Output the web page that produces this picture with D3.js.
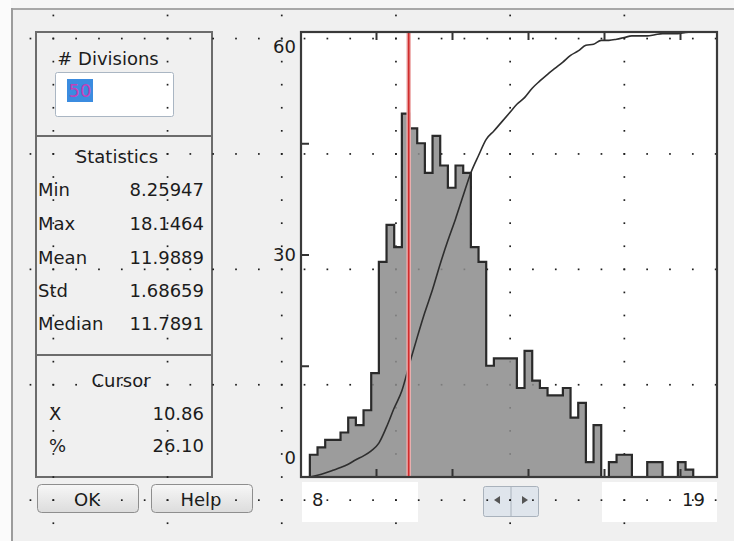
<!DOCTYPE html>
<html><head><meta charset="utf-8">
<script src="https://cdn.jsdelivr.net/npm/d3@7"></script>
<style>
html,body{margin:0;padding:0;background:#f0f0f0;}
svg{display:block;font-family:"DejaVu Sans",sans-serif;}
</style></head><body>
<svg id="chart" width="734" height="541"></svg>
<script>
// Histogram dialog: bin counts, summary statistics and cursor readout
const divisions = 50;
const histMin = 8.25947;
const histMax = 18.1464;
const binCounts = [3, 4, 5, 5, 6, 8, 7, 9, 14, 29,
                   34, 31, 49, 47, 45, 41, 46, 42, 39, 42,
                   41, 31, 29, 15, 16, 16, 16, 12, 17, 13,
                   12, 11, 11, 12, 8, 10, 2, 7, 0, 2,
                   3, 3, 0, 0, 2, 2, 0, 0, 2, 1];
const statLabels = ["Min", "Max", "Mean", "Std", "Median"];
const statValues = ["8.25947", "18.1464", "11.9889", "1.68659", "11.7891"];
const cursorX = 10.86;
const cursorLabels = ["X", "%"];
const cursorValues = ["10.86", "26.10"];
const xDomain = [8, 19];
const yDomain = [0, 60];
const xTickValues = [10, 12, 14, 16, 18];
const yTickValues = [15, 30, 45];
const yLabelValues = [0, 30, 60];
const xLabelValues = [8, 19];

const svg = d3.select("#chart");
const W = 734, H = 541;
const plot = {left: 301, right: 717, top: 32, bottom: 477};

// ---- dialog chrome ----
svg.append("rect").attr("width", W).attr("height", H).attr("fill", "#f0f0f0");
svg.append("rect").attr("x", 0).attr("y", 0).attr("width", W).attr("height", 8).attr("fill", "#f6f6f6");
svg.append("rect").attr("x", 0).attr("y", 0).attr("width", 11).attr("height", H).attr("fill", "#fbfbfb");
svg.append("line").attr("x1", 12).attr("x2", W).attr("y1", 9).attr("y2", 9)
  .attr("stroke", "#a8a8a8").attr("stroke-width", 2);
svg.append("line").attr("x1", 12).attr("x2", 12).attr("y1", 8).attr("y2", H)
  .attr("stroke", "#9c9c9c").attr("stroke-width", 2);

const ui = svg.append("g").attr("fill", "#1c1c1c").attr("font-size", 18);

// left panel frame with dividers
const panel = {x: 36, y: 32, w: 176, h: 445};
ui.append("rect").attr("x", panel.x).attr("y", panel.y).attr("width", panel.w).attr("height", panel.h)
  .attr("fill", "none").attr("stroke", "#6c6c6c").attr("stroke-width", 2);
[136, 355].forEach(yy => ui.append("line").attr("x1", panel.x).attr("x2", panel.x + panel.w)
  .attr("y1", yy).attr("y2", yy).attr("stroke", "#6c6c6c").attr("stroke-width", 2.2));

// divisions box
ui.append("text").attr("x", 108).attr("y", 65).attr("text-anchor", "middle").text("# Divisions");
ui.append("rect").attr("x", 55.5).attr("y", 72.5).attr("width", 118).attr("height", 44).attr("rx", 2)
  .attr("fill", "#ffffff").attr("stroke", "#aab6c3");
ui.append("rect").attr("x", 67).attr("y", 79).attr("width", 26).attr("height", 23).attr("fill", "#3b8ce0");
ui.append("text").attr("x", 68.5).attr("y", 97).attr("fill", "#c43fb8").text(String(divisions));

// statistics
ui.append("text").attr("x", 117).attr("y", 163).attr("text-anchor", "middle").text("Statistics");
const statBase = [196, 230, 263.5, 297, 330];
statLabels.forEach((s, i) => {
  ui.append("text").attr("x", 38).attr("y", statBase[i]).text(s);
  ui.append("text").attr("x", 204).attr("y", statBase[i]).attr("text-anchor", "end").text(statValues[i]);
});

// cursor readout
ui.append("text").attr("x", 121).attr("y", 386.5).attr("text-anchor", "middle").text("Cursor");
const curBase = [420, 452];
cursorLabels.forEach((s, i) => {
  ui.append("text").attr("x", 49).attr("y", curBase[i]).text(s);
  ui.append("text").attr("x", 204).attr("y", curBase[i]).attr("text-anchor", "end").text(cursorValues[i]);
});

// buttons
const grad = svg.append("defs").append("linearGradient").attr("id", "btn")
  .attr("x1", 0).attr("y1", 0).attr("x2", 0).attr("y2", 1);
grad.append("stop").attr("offset", 0).attr("stop-color", "#f7f7f7");
grad.append("stop").attr("offset", 1).attr("stop-color", "#dcdcdc");
[{x: 37.5, w: 101, t: "OK"}, {x: 151.5, w: 101, t: "Help"}].forEach(b => {
  ui.append("rect").attr("x", b.x).attr("y", 484.5).attr("width", b.w).attr("height", 28).attr("rx", 4)
    .attr("fill", "url(#btn)").attr("stroke", "#8e8e8e");
  ui.append("text").attr("x", b.x + b.w / 2 - 1).attr("y", 506).attr("text-anchor", "middle").text(b.t);
});

// axis min / max boxes and scroll buttons
ui.append("rect").attr("x", 302).attr("y", 482).attr("width", 116).attr("height", 40).attr("fill", "#ffffff");
ui.append("rect").attr("x", 602).attr("y", 482).attr("width", 115).attr("height", 40).attr("fill", "#ffffff");
ui.append("rect").attr("x", 483.5).attr("y", 486.5).attr("width", 55).attr("height", 30).attr("rx", 2)
  .attr("fill", "#dfe5ec").attr("stroke", "#a9b2bc");
ui.append("line").attr("x1", 511).attr("x2", 511).attr("y1", 487).attr("y2", 516).attr("stroke", "#a9b2bc");
ui.append("path").attr("d", "M494,500 L500,496 L500,504 Z").attr("fill", "#555");
ui.append("path").attr("d", "M528,500 L522,496 L522,504 Z").attr("fill", "#555");

// ---- plot ----
const x = d3.scaleLinear().domain(xDomain).range([300, 718]);
const y = d3.scaleLinear().domain(yDomain).range([plot.bottom, plot.top]);
const yPct = d3.scaleLinear().domain([0, 100]).range([plot.bottom, plot.top]);

svg.append("rect").attr("x", plot.left).attr("y", plot.top)
  .attr("width", plot.right - plot.left).attr("height", plot.bottom - plot.top).attr("fill", "#ffffff");

// y labels kept inside the plot's vertical span
yLabelValues.forEach(v => {
  const base = Math.min(Math.max(y(v) + 6.5, plot.top + 21), plot.bottom - 13);
  ui.append("text").attr("x", 296).attr("y", base).attr("text-anchor", "end").text(v);
});
ui.append("text").attr("x", 312).attr("y", 506).text(xLabelValues[0]);
ui.append("text").attr("x", 705).attr("y", 506).attr("text-anchor", "end").text(xLabelValues[1]);

// ---- layout grid dots (drawn over the panel, under the histogram fill) ----
const dots = svg.append("g").attr("fill", "#1e1e1e");
const colXs = d3.range(6).map(k => 53.3 + 114.2 * k);
const rowYs = d3.range(5).map(k => 38.5 + 115.4 * k);
colXs.forEach(cx => d3.range(23).forEach(k => {
  dots.append("rect").attr("x", cx - 0.8).attr("y", 15.4 + 23.08 * k - 0.8).attr("width", 1.7).attr("height", 1.7);
}));
rowYs.forEach(ry => d3.range(31).forEach(k => {
  dots.append("rect").attr("x", 30.4 + 22.84 * k - 0.8).attr("y", ry - 0.8).attr("width", 1.7).attr("height", 1.7);
}));

// ---- histogram ----
const binWidth = (histMax - histMin) / (divisions - 1);
const edges = d3.range(divisions + 1).map(i => histMin + i * binWidth);
const steps = [{x: edges[0], c: 0}]
  .concat(binCounts.map((c, i) => ({x: edges[i], c})))
  .concat([{x: edges[divisions], c: 0}]);

svg.append("clipPath").attr("id", "plotclip").append("rect")
  .attr("x", plot.left).attr("y", plot.top).attr("width", plot.right - plot.left).attr("height", plot.bottom - plot.top);
const pg = svg.append("g").attr("clip-path", "url(#plotclip)");

pg.append("path").datum(steps)
  .attr("d", d3.area().x(d => x(d.x)).y0(y(0)).y1(d => y(d.c)).curve(d3.curveStepAfter))
  .attr("fill", "#8c8c8c").attr("fill-opacity", 0.86);
pg.append("path").datum(steps)
  .attr("d", d3.line().x(d => x(d.x)).y(d => y(d.c)).curve(d3.curveStepAfter))
  .attr("fill", "none").attr("stroke", "#2a2a2a").attr("stroke-width", 2.2);

// cumulative percentage curve
const cum = d3.cumsum(binCounts);
const total = cum[cum.length - 1];
const cdf = [{x: edges[0], p: 0}].concat(Array.from(cum, (s, i) => ({x: edges[i + 1], p: s / total * 100})));
pg.append("path").datum(cdf)
  .attr("d", d3.line().x(d => x(d.x)).y(d => yPct(d.p)).curve(d3.curveMonotoneX))
  .attr("fill", "none").attr("stroke", "#2e2e2e").attr("stroke-width", 1.6);

// cursor line
pg.append("line").attr("x1", x(cursorX)).attr("x2", x(cursorX)).attr("y1", plot.top).attr("y2", plot.bottom)
  .attr("stroke", "#eeb0b0").attr("stroke-width", 4.5);
pg.append("line").attr("x1", x(cursorX)).attr("x2", x(cursorX)).attr("y1", plot.top).attr("y2", plot.bottom)
  .attr("stroke", "#d02c2c").attr("stroke-width", 1.8);

// inward tick marks on left, top and bottom edges
const tickStyle = g => { g.select(".domain").remove(); g.selectAll("text").remove();
  g.selectAll("line").attr("stroke", "#333").attr("stroke-width", 2); };
svg.append("g").attr("transform", `translate(${plot.left},0)`)
  .call(d3.axisLeft(y).tickValues(yTickValues).tickSize(-8)).call(tickStyle);
svg.append("g").attr("transform", `translate(0,${plot.bottom})`)
  .call(d3.axisBottom(x).tickValues(xTickValues).tickSize(-8)).call(tickStyle);
svg.append("g").attr("transform", `translate(0,${plot.top})`)
  .call(d3.axisTop(x).tickValues(xTickValues).tickSize(-8)).call(tickStyle);

// plot frame
svg.append("rect").attr("x", plot.left).attr("y", plot.top)
  .attr("width", plot.right - plot.left).attr("height", plot.bottom - plot.top)
  .attr("fill", "none").attr("stroke", "#3a3a3a").attr("stroke-width", 2.2);
</script>
</body></html>
